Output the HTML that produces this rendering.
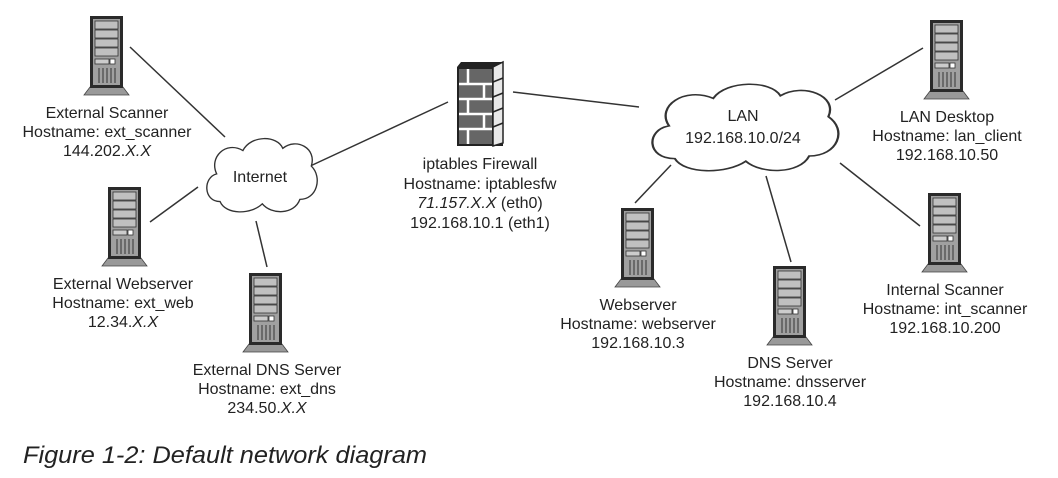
<!DOCTYPE html>
<html><head><meta charset="utf-8"><style>
html,body{margin:0;padding:0;background:#fff;}
svg{display:block;}
text{font-family:"Liberation Sans",sans-serif;fill:#222;}
</style></head><body>
<svg width="1058" height="478" viewBox="0 0 1058 478" xmlns="http://www.w3.org/2000/svg">
<defs>
<symbol id="srv" overflow="visible">
<polygon points="0,71 33,71 39,79 -6,79" fill="#999" stroke="#444" stroke-width="0.8"/>
<rect x="0" y="0" width="33" height="72" fill="#2a2a2a"/>
<rect x="3" y="3" width="27" height="66" fill="#a0a0a0"/>
<rect x="5" y="5" width="23" height="8" fill="#c0c0c0" stroke="#333" stroke-width="0.8"/>
<rect x="5" y="14" width="23" height="8" fill="#c0c0c0" stroke="#333" stroke-width="0.8"/>
<rect x="5" y="23" width="23" height="8" fill="#c0c0c0" stroke="#333" stroke-width="0.8"/>
<rect x="5" y="32" width="23" height="8" fill="#c0c0c0" stroke="#333" stroke-width="0.8"/>
<rect x="5" y="43" width="14" height="5" fill="#ccc" stroke="#333" stroke-width="0.8"/>
<rect x="20" y="43" width="5" height="5" fill="#fff" stroke="#333" stroke-width="0.8"/>
<g stroke="#333" stroke-width="1">
<line x1="9" y1="52" x2="9" y2="67"/><line x1="13" y1="52" x2="13" y2="67"/><line x1="17" y1="52" x2="17" y2="67"/><line x1="21" y1="52" x2="21" y2="67"/><line x1="25" y1="52" x2="25" y2="67"/>
</g>
</symbol>
<path id="cloud" d="M15,60 C0,60 0,38 12,35 C5,20 20,5 35,14 C42,0 65,0 70,12 C82,2 100,12 95,28 C105,38 100,58 85,58 C80,72 60,72 52,62 C42,72 20,72 15,60 Z"/>
</defs>

<g stroke="#333" stroke-width="1.5">
<line x1="130" y1="47" x2="225" y2="137"/>
<line x1="150" y1="222" x2="198" y2="187"/>
<line x1="256" y1="221" x2="267" y2="267"/>
<line x1="306" y1="168" x2="448" y2="102"/>
<line x1="513" y1="92" x2="639" y2="107"/>
<line x1="671" y1="165" x2="635" y2="203"/>
<line x1="766" y1="176" x2="791" y2="262"/>
<line x1="840" y1="163" x2="920" y2="226"/>
<line x1="835" y1="100" x2="923" y2="48"/>
</g>

<use href="#cloud" transform="translate(203,135) scale(1.14,1.11)" fill="#fff" stroke="#333" stroke-width="1.2" vector-effect="non-scaling-stroke"/>
<use href="#cloud" transform="translate(646,80) scale(1.92,1.31)" fill="#fff" stroke="#333" stroke-width="1.2" vector-effect="non-scaling-stroke"/>
<text x="260" y="182" font-size="16" text-anchor="middle">Internet</text>
<text x="743" y="121" font-size="16" text-anchor="middle">LAN</text>
<text x="743" y="143" font-size="16" text-anchor="middle">192.168.10.0/24</text>

<!-- firewall -->
<g>
<polygon points="461,62 503,62 503,146 493,146 457,146 457,67" fill="#222"/>
<polygon points="493,67 503,62 503,143 493,146" fill="#e8e8e8" stroke="#222" stroke-width="1.5"/>
<rect x="459" y="69" width="33" height="75" fill="#666"/>
<g stroke="#fff" stroke-width="2.5">
<line x1="459" y1="84" x2="492" y2="84"/><line x1="459" y1="99" x2="492" y2="99"/><line x1="459" y1="114" x2="492" y2="114"/><line x1="459" y1="129" x2="492" y2="129"/>
<line x1="468" y1="69" x2="468" y2="84"/><line x1="484" y1="84" x2="484" y2="99"/><line x1="468" y1="99" x2="468" y2="114"/><line x1="484" y1="114" x2="484" y2="129"/><line x1="468" y1="129" x2="468" y2="144"/>
</g>
<g stroke="#222" stroke-width="1.5"><line x1="493" y1="82" x2="503" y2="78"/><line x1="493" y1="97" x2="503" y2="93"/><line x1="493" y1="112" x2="503" y2="108"/><line x1="493" y1="127" x2="503" y2="123"/></g>
</g>
<g font-size="16" text-anchor="middle">
<text x="480" y="169">iptables Firewall</text>
<text x="480" y="189">Hostname: iptablesfw</text>
<text x="480" y="208"><tspan font-style="italic">71.157.X.X</tspan> (eth0)</text>
<text x="480" y="228">192.168.10.1 (eth1)</text>
</g>

<use href="#srv" x="90" y="16"/>
<use href="#srv" x="108" y="187"/>
<use href="#srv" x="249" y="273"/>
<use href="#srv" x="621" y="208"/>
<use href="#srv" x="773" y="266"/>
<use href="#srv" x="928" y="193"/>
<use href="#srv" x="930" y="20"/>

<g font-size="16" text-anchor="middle">
<text x="107" y="118">External Scanner</text>
<text x="107" y="137">Hostname: ext_scanner</text>
<text x="107" y="156">144.202.<tspan font-style="italic">X.X</tspan></text>

<text x="123" y="289">External Webserver</text>
<text x="123" y="308">Hostname: ext_web</text>
<text x="123" y="327">12.34.<tspan font-style="italic">X.X</tspan></text>

<text x="267" y="375">External DNS Server</text>
<text x="267" y="394">Hostname: ext_dns</text>
<text x="267" y="413">234.50.<tspan font-style="italic">X.X</tspan></text>

<text x="638" y="310">Webserver</text>
<text x="638" y="329">Hostname: webserver</text>
<text x="638" y="348">192.168.10.3</text>

<text x="790" y="368">DNS Server</text>
<text x="790" y="387">Hostname: dnsserver</text>
<text x="790" y="406">192.168.10.4</text>

<text x="945" y="295">Internal Scanner</text>
<text x="945" y="314">Hostname: int_scanner</text>
<text x="945" y="333">192.168.10.200</text>

<text x="947" y="122">LAN Desktop</text>
<text x="947" y="141">Hostname: lan_client</text>
<text x="947" y="160">192.168.10.50</text>
</g>

<text x="23" y="463" font-size="24" font-style="italic" textLength="404" lengthAdjust="spacingAndGlyphs">Figure 1-2: Default network diagram</text>
</svg>
</body></html>
